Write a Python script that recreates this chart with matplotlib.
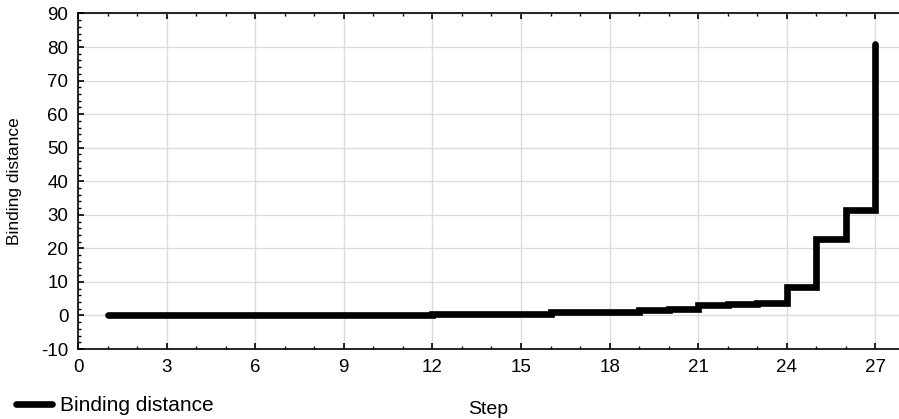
import matplotlib
matplotlib.use('Agg')
import matplotlib.pyplot as plt
from matplotlib.ticker import MultipleLocator

plt.rcParams['font.family'] = ['Liberation Sans', 'DejaVu Sans']
plt.rcParams['axes.unicode_minus'] = False

# binding distance per agglomeration step
steps = list(range(1, 28))
dist = [0.1, 0.1, 0.1, 0.1, 0.1, 0.12, 0.12, 0.14, 0.15, 0.17, 0.2,
        0.35, 0.4, 0.45, 0.5, 1.0, 1.05, 1.1, 1.5, 1.8, 3.0, 3.3, 3.7,
        8.4, 22.8, 31.3, 81.0]

fig = plt.figure(figsize=(8.99, 4.19), dpi=100)
ax = fig.add_axes([78/899, 1-349/419, 1-78/899, (349-13.5)/419])

ln, = ax.step(steps, dist, where='post', color='black', lw=4.8,
              solid_capstyle='round', solid_joinstyle='miter', label='Binding distance')

ax.set_xlim(0, 27.8)
ax.set_ylim(-10, 90)
ax.xaxis.set_major_locator(MultipleLocator(3))
ax.xaxis.set_minor_locator(MultipleLocator(1))
ax.yaxis.set_major_locator(MultipleLocator(10))
ax.yaxis.set_minor_locator(MultipleLocator(2))
ax.grid(True, which='major', color='#dcdcdc', lw=1)
ax.set_axisbelow(True)
ax.spines['right'].set_visible(False)
for s in ('left', 'top', 'bottom'):
    ax.spines[s].set_linewidth(1.2)
ax.tick_params(which='both', direction='in', top=True, right=False, labelsize=13.5)
ax.tick_params(which='major', length=4, width=1.2, pad=7)
ax.tick_params(which='minor', length=2.5, width=1)

ax.set_xlabel('Step', fontsize=14, labelpad=18)
ax.set_ylabel('Binding distance', fontsize=12.5)
ax.yaxis.set_label_coords(-56/821, 0.5)

fig.legend(handles=[ln], loc='center left', bbox_to_anchor=(16/899, 1-405/419),
           frameon=False, fontsize=15, handlelength=1.75, handletextpad=0.35,
           borderaxespad=0, borderpad=0, handleheight=0.5)

fig.savefig('out.png', dpi=100)
